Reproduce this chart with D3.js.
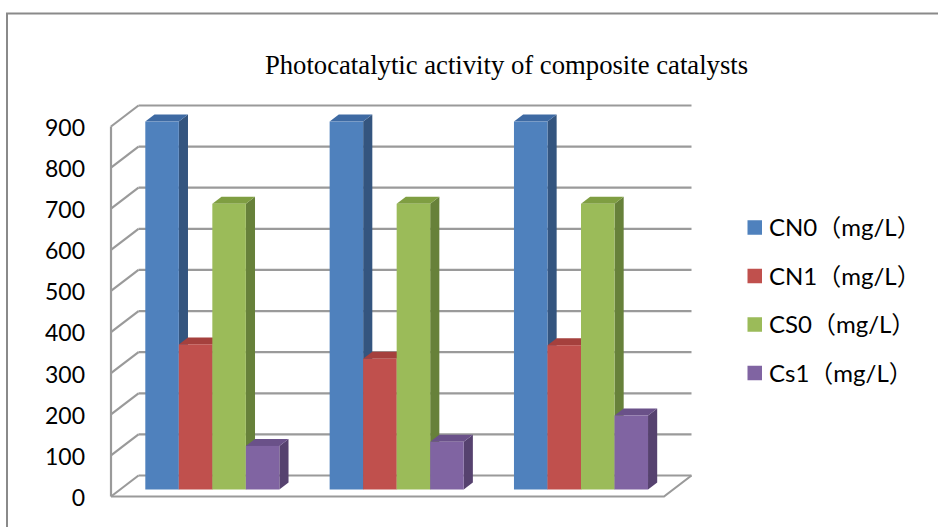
<!DOCTYPE html>
<html>
<head>
<meta charset="utf-8">
<script src="https://cdn.jsdelivr.net/npm/d3@7"></script>
<style>
  html, body { margin: 0; padding: 0; background: #ffffff; }
  svg { display: block; }
</style>
</head>
<body>
<svg id="chart" width="938" height="527"></svg>
<script>
// ---- data ----
const groups = ["1", "2", "3"];
const seriesNames = ["CN0（mg/L）", "CN1（mg/L）", "CS0（mg/L）", "Cs1（mg/L）"];
const cn0 = [895, 895, 895];
const cn1 = [353, 318, 351];
const cs0 = [695, 695, 695];
const cs1 = [106, 116, 180];
const tickValues = [0, 100, 200, 300, 400, 500, 600, 700, 800, 900];
const titleText = "Photocatalytic activity of composite catalysts";

// ---- colours: front, side, top for each series ----
const frontColors = ["#4f81bd", "#c0504d", "#9bbb59", "#8064a2"];
const sideColors  = ["#34557f", "#8d3a38", "#67813a", "#56426f"];
const topColors   = ["#3e6aa3", "#a5403d", "#7f9e42", "#6a5189"];

const seriesValues = [cn0, cn1, cs0, cs1];

const svg = d3.select("#chart");

// outer chart frame (runs off the right and bottom edges)
svg.append("rect")
  .attr("x", 7).attr("y", 13.5)
  .attr("width", 960).attr("height", 560)
  .attr("fill", "none")
  .attr("stroke", "#8a8a8a")
  .attr("stroke-width", 2);

// title
svg.append("text")
  .attr("x", 506.5).attr("y", 74)
  .attr("text-anchor", "middle")
  .attr("font-family", "'Liberation Serif', 'Times New Roman', serif")
  .attr("font-size", 26.7)
  .attr("fill", "#000")
  .text(titleText);

// ---- 3D plot geometry ----
const frontLeft = 111, frontRight = 664;
const depthX = 27.5, depthY = -21;
const barD0 = 1 / 3, barD1 = 2 / 3;

const y = d3.scaleLinear().domain([0, 900]).range([496.5, 126.5]);
const x = d3.scaleBand().domain(groups).range([frontLeft, frontRight]).paddingInner(0).paddingOuter(0);
const xs = d3.scaleBand().domain(d3.range(seriesNames.length)).range([0, x.bandwidth()])
  .paddingInner(0).paddingOuter(0.75);

const proj = (px, py, d) => [px + depthX * d, py + depthY * d];
const pts = arr => arr.map(p => p.join(",")).join(" ");

const gridColor = "#9a9a9a";
const grid = svg.append("g").attr("fill", "none").attr("stroke", gridColor).attr("stroke-width", 2.2);

// back wall gridlines
grid.selectAll("line.back").data(tickValues).join("line")
  .attr("class", "back")
  .attr("x1", d => proj(frontLeft, y(d), 1)[0])
  .attr("y1", d => proj(frontLeft, y(d), 1)[1])
  .attr("x2", d => proj(frontRight, y(d), 1)[0])
  .attr("y2", d => proj(frontRight, y(d), 1)[1]);

// side wall diagonals
grid.selectAll("line.side").data(tickValues).join("line")
  .attr("class", "side")
  .attr("x1", d => proj(frontLeft, y(d), 0)[0])
  .attr("y1", d => proj(frontLeft, y(d), 0)[1])
  .attr("x2", d => proj(frontLeft, y(d), 1)[0])
  .attr("y2", d => proj(frontLeft, y(d), 1)[1]);

// side wall front edge
grid.append("line")
  .attr("x1", frontLeft).attr("y1", y(0))
  .attr("x2", frontLeft).attr("y2", y(900));

// floor front and right edges
grid.append("polyline")
  .attr("points", pts([proj(frontLeft, y(0), 0), proj(frontRight, y(0), 0), proj(frontRight, y(0), 1)]));

// ---- bars ----
const bars = [];
groups.forEach((g, gi) => {
  seriesValues.forEach((vals, si) => {
    bars.push({ g, si, v: vals[gi] });
  });
});

const barG = svg.append("g");
bars.forEach(b => {
  const xl = x(b.g) + xs(b.si);
  const xr = xl + xs.bandwidth();
  const y0 = y(0), yv = y(b.v);
  const grp = barG.append("g");
  // right side face
  grp.append("polygon")
    .attr("points", pts([proj(xr, y0, barD0), proj(xr, y0, barD1), proj(xr, yv, barD1), proj(xr, yv, barD0)]))
    .attr("fill", sideColors[b.si]);
  // top face
  grp.append("polygon")
    .attr("points", pts([proj(xl, yv, barD0), proj(xr, yv, barD0), proj(xr, yv, barD1), proj(xl, yv, barD1)]))
    .attr("fill", topColors[b.si]);
  // front face
  const f0 = proj(xl, yv, barD0), f1 = proj(xr, y0, barD0);
  grp.append("rect")
    .attr("x", f0[0]).attr("y", f0[1])
    .attr("width", f1[0] - f0[0]).attr("height", f1[1] - f0[1])
    .attr("fill", frontColors[b.si]);
});

// ---- value axis labels ----
const axis = d3.axisLeft(y).tickValues(tickValues).tickSize(0).tickPadding(0);
const axG = svg.append("g").attr("transform", "translate(85,1.5)").call(axis);
axG.select(".domain").remove();
axG.selectAll("text")
  .attr("font-family", "Lato, 'Noto Sans', sans-serif")
  .attr("font-size", 23)
  .attr("fill", "#000");

// ---- legend ----
const legend = svg.append("g");
const legendY = d3.scalePoint().domain(seriesNames).range([227.5, 373]);
seriesNames.forEach((name, i) => {
  const cy = legendY(name);
  legend.append("rect")
    .attr("x", 747.5).attr("y", cy - 7.25)
    .attr("width", 14.5).attr("height", 14.5)
    .attr("fill", frontColors[i]);
  legend.append("text")
    .attr("x", 769).attr("y", cy)
    .attr("dy", "0.36em")
    .attr("font-family", "Lato, 'Noto Sans CJK SC', sans-serif")
    .attr("font-size", 24)
    .attr("fill", "#000")
    .text(name);
});
</script>
</body>
</html>
